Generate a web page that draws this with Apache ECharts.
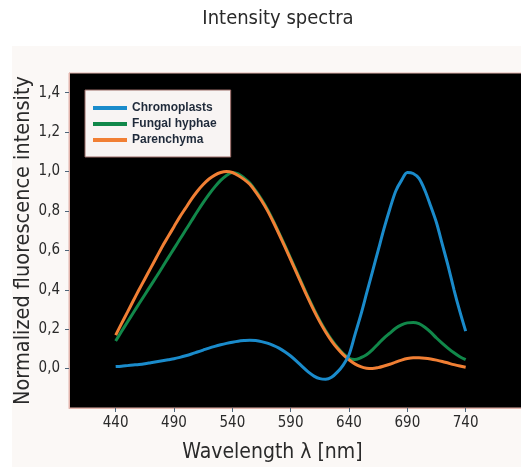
<!DOCTYPE html>
<html>
<head>
<meta charset="utf-8">
<script src="https://cdn.jsdelivr.net/npm/echarts@6/dist/echarts.min.js"></script>
<style>
  html, body { margin: 0; padding: 0; background: #ffffff; }
  #chart { width: 521px; height: 467px; }
</style>
</head>
<body>
<div id="chart"></div>
<script>
// Emission wavelengths sampled every 5 nm
const wavelengths = [440, 445, 450, 455, 460, 465, 470, 475, 480, 485, 490,
  495, 500, 505, 510, 515, 520, 525, 530, 535, 540,
  545, 550, 555, 560, 565, 570, 575, 580, 585, 590,
  595, 600, 605, 610, 615, 620, 625, 630, 635, 640,
  645, 650, 655, 660, 665, 670, 675, 680, 685, 690,
  695, 700, 705, 710, 715, 720, 725, 730, 735, 740];

// Normalized fluorescence intensity per tissue type
const chromoplasts = [0.010, 0.012, 0.015, 0.018, 0.021, 0.025, 0.030, 0.035, 0.040, 0.045, 0.050,
  0.057, 0.065, 0.074, 0.084, 0.094, 0.104, 0.113, 0.121, 0.128, 0.134,
  0.139, 0.142, 0.144, 0.142, 0.137, 0.129, 0.118, 0.104, 0.086, 0.064,
  0.038, 0.010, -0.017, -0.038, -0.051, -0.054, -0.044, -0.018, 0.018, 0.070,
  0.170, 0.270, 0.380, 0.490, 0.600, 0.710, 0.810, 0.900, 0.955, 0.995,
  0.990, 0.965, 0.905, 0.825, 0.740, 0.630, 0.520, 0.400, 0.290, 0.190];
const fungalHyphae = [0.140, 0.188, 0.235, 0.282, 0.329, 0.375, 0.421, 0.467, 0.514, 0.562, 0.609,
  0.656, 0.703, 0.750, 0.797, 0.842, 0.884, 0.922, 0.955, 0.980, 0.995,
  0.988, 0.968, 0.942, 0.903, 0.859, 0.809, 0.751, 0.689, 0.625, 0.559,
  0.493, 0.427, 0.362, 0.300, 0.243, 0.192, 0.147, 0.108, 0.076, 0.052,
  0.046, 0.055, 0.070, 0.095, 0.125, 0.155, 0.180, 0.205, 0.222, 0.232,
  0.234, 0.228, 0.210, 0.185, 0.155, 0.128, 0.103, 0.080, 0.060, 0.045];
const parenchyma = [0.170, 0.228, 0.285, 0.343, 0.400, 0.455, 0.510, 0.565, 0.620, 0.670, 0.720,
  0.770, 0.815, 0.860, 0.900, 0.934, 0.962, 0.982, 0.995, 1.000, 0.995,
  0.980, 0.960, 0.935, 0.897, 0.853, 0.803, 0.745, 0.683, 0.619, 0.553,
  0.487, 0.421, 0.356, 0.294, 0.237, 0.186, 0.141, 0.103, 0.071, 0.045,
  0.024, 0.010, 0.002, 0.000, 0.005, 0.013, 0.022, 0.033, 0.043, 0.051,
  0.055, 0.055, 0.053, 0.049, 0.043, 0.036, 0.028, 0.020, 0.013, 0.007];

// Axis tick positions
const wavelengthTicks = [440, 490, 540, 590, 640, 690, 740];
const intensityTicks = [0, 0.2, 0.4, 0.6, 0.8, 1.0, 1.2, 1.4];

const seriesNames = ['Chromoplasts', 'Fungal hyphae', 'Parenchyma'];
const seriesColors = ['#1a8bcb', '#11884a', '#f17f34'];

const narrow = "'Liberation Sans Narrow', 'DejaVu Sans Condensed', 'Liberation Sans', sans-serif";

function pairs(values) {
  return wavelengths.map((w, i) => [w, values[i]]);
}

function makeSeries(name, values, color, z) {
  return {
    name: name,
    type: 'line',
    data: pairs(values),
    smooth: 0.3,
    showSymbol: false,
    symbol: 'none',
    z: z,
    lineStyle: { color: color, width: 3 },
    itemStyle: { color: color }
  };
}

const chart = echarts.init(document.getElementById('chart'), null, { renderer: 'canvas' });

chart.setOption({
  animation: false,
  backgroundColor: '#ffffff',
  graphic: [{
    type: 'rect',
    z: -10,
    shape: { x: 12, y: 46, width: 515, height: 425 },
    style: { fill: '#fbf8f6' }
  }],
  title: {
    text: 'Intensity spectra',
    left: 273,
    textAlign: 'center',
    top: 4,
    textStyle: { fontFamily: narrow, fontSize: 20, fontWeight: 'normal', color: '#2a2a2a' }
  },
  legend: {
    data: seriesNames,
    orient: 'vertical',
    left: 85,
    top: 90,
    padding: [11, 14, 10, 8],
    itemGap: 2,
    itemWidth: 34,
    itemHeight: 4,
    icon: 'rect',
    backgroundColor: '#f8f4f3',
    borderColor: '#9a6a66',
    borderWidth: 1,
    textStyle: {
      fontFamily: "'Liberation Sans', Arial, sans-serif",
      fontSize: 12,
      fontWeight: 'bold',
      color: '#1f2a3a',
      lineHeight: 14
    }
  },
  grid: {
    left: 69,
    right: -3,
    top: 73,
    bottom: 59,
    outerBoundsMode: 'none',
    containLabel: false,
    show: true,
    backgroundColor: '#000000',
    borderColor: '#e2b4ac',
    borderWidth: 1
  },
  xAxis: {
    type: 'value',
    min: 400,
    max: 790,
    name: 'Wavelength λ [nm]',
    nameLocation: 'middle',
    nameGap: 34,
    nameMoveOverlap: false,
    nameTextStyle: { fontFamily: narrow, fontSize: 21, color: '#2a2a2a', padding: [0, 48, 0, 0] },
    splitLine: { show: false },
    axisLine: { show: true, onZero: false, lineStyle: { color: '#e2b4ac', width: 1 } },
    axisTick: { show: true, length: 4, customValues: wavelengthTicks, lineStyle: { color: '#4e6478' } },
    axisLabel: {
      customValues: wavelengthTicks,
      margin: 8,
      fontFamily: narrow,
      fontSize: 15,
      color: '#2a2a2a'
    }
  },
  yAxis: {
    type: 'value',
    min: -0.2,
    max: 1.5,
    name: 'Normalized fluorescence intensity',
    nameLocation: 'middle',
    nameGap: 35,
    nameMoveOverlap: false,
    nameTextStyle: { fontFamily: narrow, fontSize: 21.5, color: '#2a2a2a' },
    splitLine: { show: false },
    axisLine: { show: true, onZero: false, lineStyle: { color: '#e2b4ac', width: 1 } },
    axisTick: { show: true, length: 4, customValues: intensityTicks, lineStyle: { color: '#4e6478' } },
    axisLabel: {
      customValues: intensityTicks,
      margin: 9,
      fontFamily: narrow,
      fontSize: 15,
      color: '#2a2a2a',
      formatter: v => v.toFixed(1).replace('.', ',')
    }
  },
  series: [
    makeSeries(seriesNames[0], chromoplasts, seriesColors[0], 4),
    makeSeries(seriesNames[1], fungalHyphae, seriesColors[1], 2),
    makeSeries(seriesNames[2], parenchyma, seriesColors[2], 3)
  ]
});
</script>
</body>
</html>
